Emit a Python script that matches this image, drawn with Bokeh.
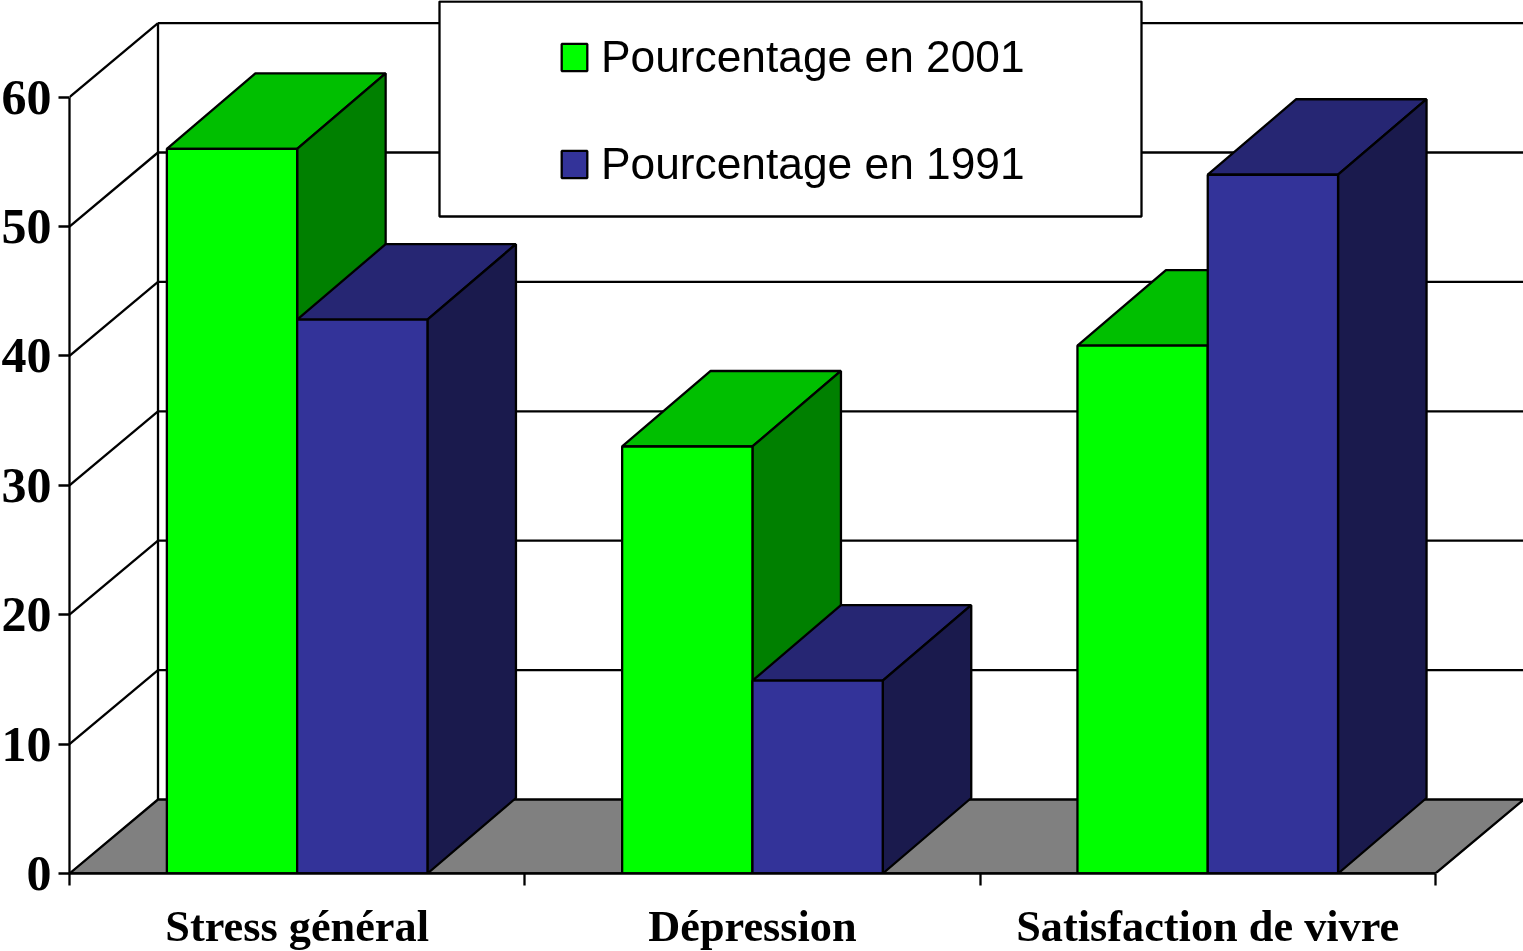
from bokeh.plotting import figure
from bokeh.models import FixedTicker, Legend, LegendItem, Range1d, BoxAnnotation
from bokeh.embed import file_html
from bokeh.resources import INLINE

categories = ["Stress général", "Dépression", "Satisfaction de vivre"]
series_2001 = [56.0, 33.0, 40.8]
series_1991 = [42.8, 14.9, 54.0]
series_names = ["Pourcentage en 2001", "Pourcentage en 1991"]
value_ticks = [0, 10, 20, 30, 40, 50, 60]

FRONT = ["#00FF00", "#333399"]
TOP = ["#00BF00", "#262673"]
SIDE = ["#008000", "#1A1A4D"]

PX_X = 455.3
PX_Y = 12.94
BAR_W = 130.3 / PX_X
DX = 88.5 / PX_X
DY_BAR = 75.5 / PX_Y
DY_WALL = 74 / PX_Y
LW = 2.3
n = len(categories)
X_END = n + DX

p = figure(width=1527, height=955, output_backend="svg", toolbar_location=None,
           x_range=Range1d(0, 1454 / PX_X), y_range=Range1d(0, 873 / PX_Y),
           min_border_left=73, min_border_right=0, min_border_top=0, min_border_bottom=82,
           background_fill_color="white", border_fill_color="white",
           styles={"position": "fixed", "left": "-4px", "top": "0"})
p.outline_line_color = None
p.xgrid.visible = False
p.ygrid.visible = False

# floor
p.patch([0, n, X_END, DX], [0, 0, DY_WALL, DY_WALL], fill_color="#808080", line_color="black", line_width=LW)

# walls
top_v = value_ticks[-1] + DY_WALL
p.multi_line(
    xs=[[DX, X_END] for _ in value_ticks[1:]] + [[0, DX] for _ in value_ticks[1:]] + [[DX, DX]],
    ys=[[t + DY_WALL, t + DY_WALL] for t in value_ticks[1:]]
       + [[t, t + DY_WALL] for t in value_ticks[1:]] + [[DY_WALL, top_v]],
    line_color="black", line_width=LW)

renderers = []
for s, vals in enumerate([series_2001, series_1991]):
    xl = [i + 0.5 - BAR_W + s * BAR_W for i in range(n)]
    xr = [x + BAR_W for x in xl]
    p.patches([[a, b, b + DX, a + DX] for a, b in zip(xl, xr)],
              [[v, v, v + DY_BAR, v + DY_BAR] for v in vals],
              fill_color=TOP[s], line_color="black", line_width=LW)
    p.patches([[b, b + DX, b + DX, b] for b in xr],
              [[0, DY_BAR, v + DY_BAR, v] for v in vals],
              fill_color=SIDE[s], line_color="black", line_width=LW)
    renderers.append(p.quad(left=xl, right=xr, bottom=[0] * n, top=vals,
                            fill_color=FRONT[s], line_color="black", line_width=LW))

# axes
ax = p.yaxis[0]
ax.ticker = FixedTicker(ticks=value_ticks)
ax.bounds = (value_ticks[0], value_ticks[-1])
ax.major_label_overrides = {t: str(t) for t in value_ticks}
ax.major_tick_in = 0
ax.major_tick_out = 11
ax.minor_tick_line_color = None
ax.axis_line_width = LW
ax.major_tick_line_width = LW
ax.major_label_text_font = "Liberation Serif"
ax.major_label_text_font_style = "bold"
ax.major_label_text_font_size = "50px"
ax.major_label_text_color = "black"
ax.major_label_standoff = 7

bx = p.xaxis[0]
centers = [i + 0.5 for i in range(n)]
bx.ticker = FixedTicker(ticks=centers, minor_ticks=list(range(n + 1)))
bx.bounds = (0, n)
bx.major_label_overrides = {c: l for c, l in zip(centers, categories)}
bx.major_tick_in = 0
bx.major_tick_out = 0
bx.minor_tick_in = 0
bx.minor_tick_out = 12
bx.minor_tick_line_width = LW
bx.minor_tick_line_color = "black"
bx.axis_line_width = LW
bx.major_label_text_font = "Liberation Serif"
bx.major_label_text_font_style = "bold"
bx.major_label_text_font_size = "44.3px"
bx.major_label_text_color = "black"
bx.major_label_standoff = 16

# legend panel, then the legend itself on top of it
p.add_layout(BoxAnnotation(left=443, right=1145, top=1, bottom=216,
                           left_units="canvas", right_units="canvas",
                           top_units="canvas", bottom_units="canvas",
                           fill_color="white", fill_alpha=1.0,
                           line_color="black", line_width=LW, line_alpha=1.0))

legend = Legend(
    items=[LegendItem(label=series_names[i], renderers=[renderers[i]]) for i in range(2)],
    location=(489, 684), orientation="vertical", margin=0, padding=0, spacing=57,
    glyph_width=32, glyph_height=34, label_height=50, label_standoff=11,
    background_fill_alpha=0.0, border_line_color=None,
    label_text_font="Liberation Sans", label_text_font_size="44.3px", label_text_color="black")
p.add_layout(legend, "center")

open("out.html", "w").write(file_html(p, INLINE))
